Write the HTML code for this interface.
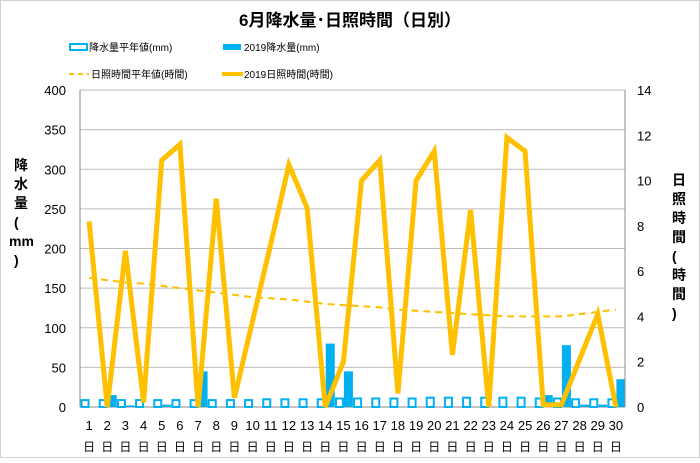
<!DOCTYPE html>
<html><head><meta charset="utf-8"><style>
body{margin:0;background:#fff}
svg text{font-family:"Liberation Sans","Noto Sans CJK JP",sans-serif}
</style></head><body>
<svg width="700" height="458" viewBox="0 0 700 458" xmlns="http://www.w3.org/2000/svg">
<rect x="0.5" y="0.5" width="699" height="457" fill="#fff" stroke="#d0d0d0"/>
<text x="350" y="26" text-anchor="middle" font-size="17" font-weight="bold">6月降水量･日照時間（日別）</text>
<g font-size="10">
<g><rect x="70" y="44" width="17" height="6" fill="#fff" stroke="#00b0f0" stroke-width="2"/><text x="89" y="51">降水量平年値(mm)</text></g>
<g><rect x="223" y="44" width="18" height="6" fill="#00b0f0"/><text x="244" y="51">2019降水量(mm)</text></g>
<g><line x1="69" y1="74" x2="89" y2="74" stroke="#ffc000" stroke-width="2" stroke-dasharray="5,4"/><text x="91" y="78">日照時間平年値(時間)</text></g>
<g><line x1="222" y1="74" x2="243" y2="74" stroke="#ffc000" stroke-width="4"/><text x="244" y="78">2019日照時間(時間)</text></g>
</g>
<text font-size="14" font-weight="bold"><tspan x="14" y="170">降</tspan><tspan x="14" dy="19">水</tspan><tspan x="14" dy="19">量</tspan><tspan x="14" dy="19">(</tspan><tspan x="9" dy="19">mm</tspan><tspan x="14" dy="19">)</tspan></text>
<text font-size="14" font-weight="bold"><tspan x="672" y="185">日</tspan><tspan x="672" dy="19">照</tspan><tspan x="672" dy="19">時</tspan><tspan x="672" dy="19">間</tspan><tspan x="672" dy="19">(</tspan><tspan x="672" dy="19">時</tspan><tspan x="672" dy="19">間</tspan><tspan x="672" dy="19">)</tspan></text>
<g id="grid"></g><g id="bars"></g><g id="lines"></g><g id="axes"></g>
</svg>
<script>
const days=[1,2,3,4,5,6,7,8,9,10,11,12,13,14,15,16,17,18,19,20,21,22,23,24,25,26,27,28,29,30];
const rainNormal=[10,10,10,10,10,10,10,10,10,10,11,11,11,11,12,12,12,12,12,13,13,13,13,13,13,12,12,11,11,11];
const rain2019=[0,15,2,0,3,0,45,0,0,0,0,0,0,80,45,0,0,0,0,0,0,0,0,0,0,15,78,3,3,35];
const sunNormal=[5.7,5.6,5.5,5.45,5.35,5.25,5.15,5.05,4.95,4.85,4.8,4.75,4.65,4.55,4.5,4.45,4.4,4.3,4.25,4.2,4.15,4.1,4.05,4.0,4.0,4.0,4.0,4.1,4.2,4.3];
const sun2019=[8.2,0,6.9,0.2,10.9,11.6,0,9.2,0.4,3.8,7.2,10.7,8.8,0,2,10,10.9,0.6,10,11.3,2.3,8.7,0,11.9,11.3,0.1,0.1,2.1,4.1,0];
const leftTicks=[0,50,100,150,200,250,300,350,400];
const rightTicks=[0,2,4,6,8,10,12,14];
const X0=80,X1=625,Y0=407,Y1=90,NS="http://www.w3.org/2000/svg";
const cw=(X1-X0)/days.length;
const xc=i=>X0+cw*(i+0.5);
const yL=v=>Y0-(v/400)*(Y0-Y1);
const yR=v=>Y0-(v/14)*(Y0-Y1);
function mk(tag,attrs,parent,txt){const e=document.createElementNS(NS,tag);for(const k in attrs)e.setAttribute(k,attrs[k]);if(txt!==undefined)e.textContent=txt;document.getElementById(parent).appendChild(e);return e;}
leftTicks.forEach(t=>{
 const l=mk('line',{x1:X0,x2:X1,y1:yL(t),y2:yL(t),stroke:t===0?'#888':'#bbb','stroke-width':1},'grid');
 
 
 const tx=mk('text',{x:X0-14,y:yL(t)+5,'text-anchor':'end','font-size':13},'axes',String(t));
 
 
});
rightTicks.forEach(t=>{
 const tx=mk('text',{x:X1+12,y:yR(t)+5,'font-size':13},'axes',String(t));
 
 
});
days.forEach((d,i)=>{
 const tx=mk('text',{x:xc(i),y:430,'text-anchor':'middle','font-size':13},'axes',String(d));
 
 
 const t2=mk('text',{x:xc(i),y:451,'text-anchor':'middle','font-size':12},'axes','日');
 
 
 const b=mk('rect',{x:xc(i)-7.5,y:yL(rainNormal[i])+1,width:7,height:Y0-yL(rainNormal[i])-1,fill:'#fff',stroke:'#00b0f0','stroke-width':2},'bars');
 
 
 if(rain2019[i]>0){
 const r=mk('rect',{x:xc(i)+0.5,y:yL(rain2019[i]),width:9,height:Y0-yL(rain2019[i]),fill:'#00b0f0'},'bars');
 
 }
});
const ax=mk('line',{x1:X0,x2:X0,y1:Y1,y2:Y0,stroke:'#888'},'axes');


const ax2=mk('line',{x1:X1,x2:X1,y1:Y1,y2:Y0,stroke:'#888'},'axes');


const pn=mk('polyline',{points:sunNormal.map((v,i)=>xc(i)+','+yR(v)).join(' '),fill:'none',stroke:'#ffc000','stroke-width':2,'stroke-dasharray':'7,5'},'lines');


const ps=mk('polyline',{points:sun2019.map((v,i)=>xc(i)+','+yR(v)).join(' '),fill:'none',stroke:'#ffc000','stroke-width':5,'stroke-linejoin':'miter','stroke-miterlimit':4},'lines');


</script>
</body></html>
